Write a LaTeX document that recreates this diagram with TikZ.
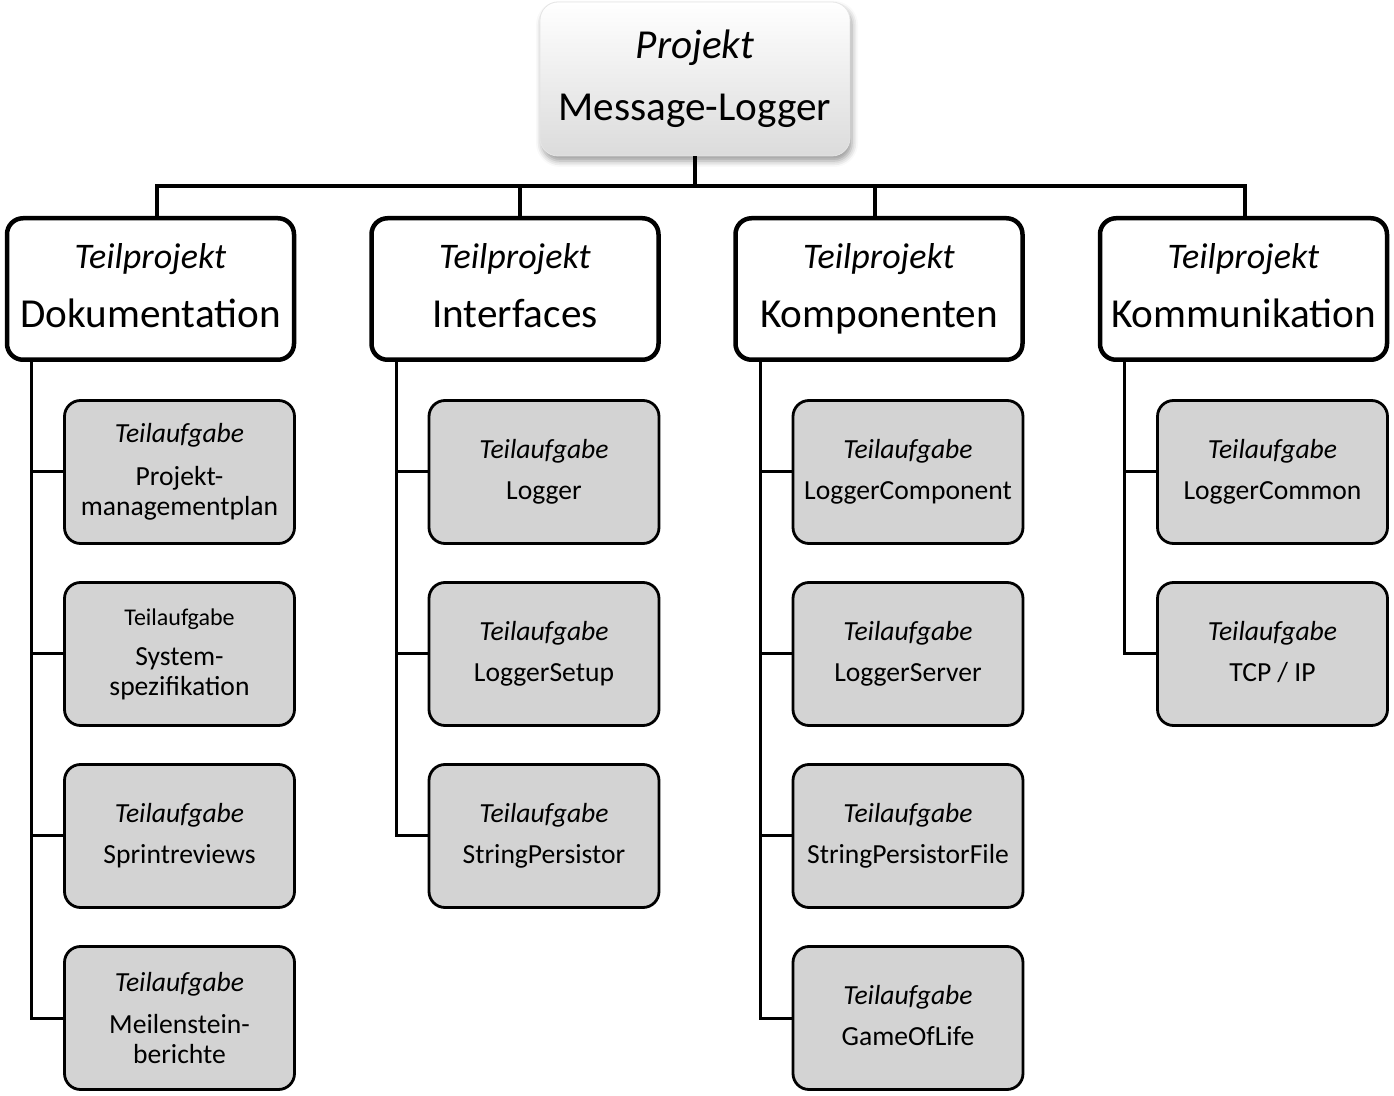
\documentclass[tikz,border=0pt]{standalone}
\usepackage{fontspec}
\setmainfont{Carlito}
\usetikzlibrary{shadows.blur}
\definecolor{aufgabegrau}{RGB}{211,211,211}
\tikzset{
  projekt/.style={rounded corners=9pt, draw=gray!20, line width=0.4pt, top color=white, bottom color=gray!28,
    minimum width=155pt, minimum height=77pt, align=center, font=\fontsize{20.6}{24}\selectfont,
    blur shadow={shadow xshift=1pt, shadow yshift=-2.5pt, shadow blur radius=3pt}},
  teilprojekt/.style={rounded corners=8pt, draw, line width=2.25pt, fill=white,
    minimum width=143.5pt, minimum height=70.75pt, align=center, font=\fontsize{20.6}{24}\selectfont},
  aufgabe/.style={rounded corners=8pt, draw, line width=1.4pt, fill=aufgabegrau,
    minimum width=115pt, minimum height=71.5pt, align=center, font=\fontsize{13.8}{15}\selectfont},
  balken/.style={line width=2pt},
  ast/.style={line width=1.5pt}
}
\newcommand{\tp}[1]{{\fontsize{18}{24}\selectfont\itshape Teilprojekt}\\[5.5pt]#1\vphantom{p}}
\newcommand{\ta}[1]{{\itshape Teilaufgabe}\\[5.5pt]#1\vphantom{g}}
\begin{document}
\begin{tikzpicture}[x=0.5pt, y=-0.5pt]
\useasboundingbox (0,0) rectangle (1394,1096);
\node[projekt] (proj) at (695,79) {{\itshape Projekt}\\[7pt]Message-Logger};

\node[teilprojekt] (doku) at (150.5,289) {\tp{Dokumentation}};
\node[teilprojekt] (intf) at (515,289) {\tp{Interfaces}};
\node[teilprojekt] (komp) at (879,289) {\tp{Komponenten}};
\node[teilprojekt] (komm) at (1243.5,289) {\tp{Kommunikation}};

\node[aufgabe] (doku1) at (179.5,472) {{\itshape Teilaufgabe}\\[6.5pt]Projekt-\\managementplan};
\node[aufgabe] (doku2) at (179.5,654) {{\fontsize{12}{15}\selectfont Teilaufgabe}\\[5pt]System-\\spezifikation};
\node[aufgabe] (doku3) at (179.5,836) {\ta{Sprintreviews}};
\node[aufgabe] (doku4) at (179.5,1018) {{\itshape Teilaufgabe}\\[6pt]Meilenstein-\\berichte};

\node[aufgabe] (intf1) at (544,472) {\ta{Logger}};
\node[aufgabe] (intf2) at (544,654) {\ta{LoggerSetup}};
\node[aufgabe] (intf3) at (544,836) {\ta{StringPersistor}};

\node[aufgabe] (komp1) at (908,472) {\ta{LoggerComponent}};
\node[aufgabe] (komp2) at (908,654) {\ta{LoggerServer}};
\node[aufgabe] (komp3) at (908,836) {\ta{StringPersistorFile}};
\node[aufgabe] (komp4) at (908,1018) {\ta{GameOfLife}};

\node[aufgabe] (komm1) at (1272.5,472) {\ta{LoggerCommon}};
\node[aufgabe] (komm2) at (1272.5,654) {\ta{TCP / IP}};

\coordinate (bar) at (695,186);
\draw[balken] (proj.south) -- (proj.south |- bar);
\draw[balken, line cap=rect] ([xshift=3pt]doku.north) |- (bar) -| ([xshift=0.75pt]komm.north);
\draw[balken] ([xshift=2.5pt]intf.north) -- ([xshift=2.5pt]intf.north |- bar);
\draw[balken] ([xshift=-2pt]komp.north) -- ([xshift=-2pt]komp.north |- bar);

\foreach \tp/\n in {doku/4, intf/3, komp/4, komm/2} {
  \coordinate (\tp L) at ([xshift=13.4pt]\tp.south west);
  \draw[ast] (\tp L) |- (\tp\n.west);
  \foreach \i in {1,...,\n} \draw[ast] (\tp\i.west) -- (\tp\i.west -| \tp L);
}
\end{tikzpicture}
\end{document}
